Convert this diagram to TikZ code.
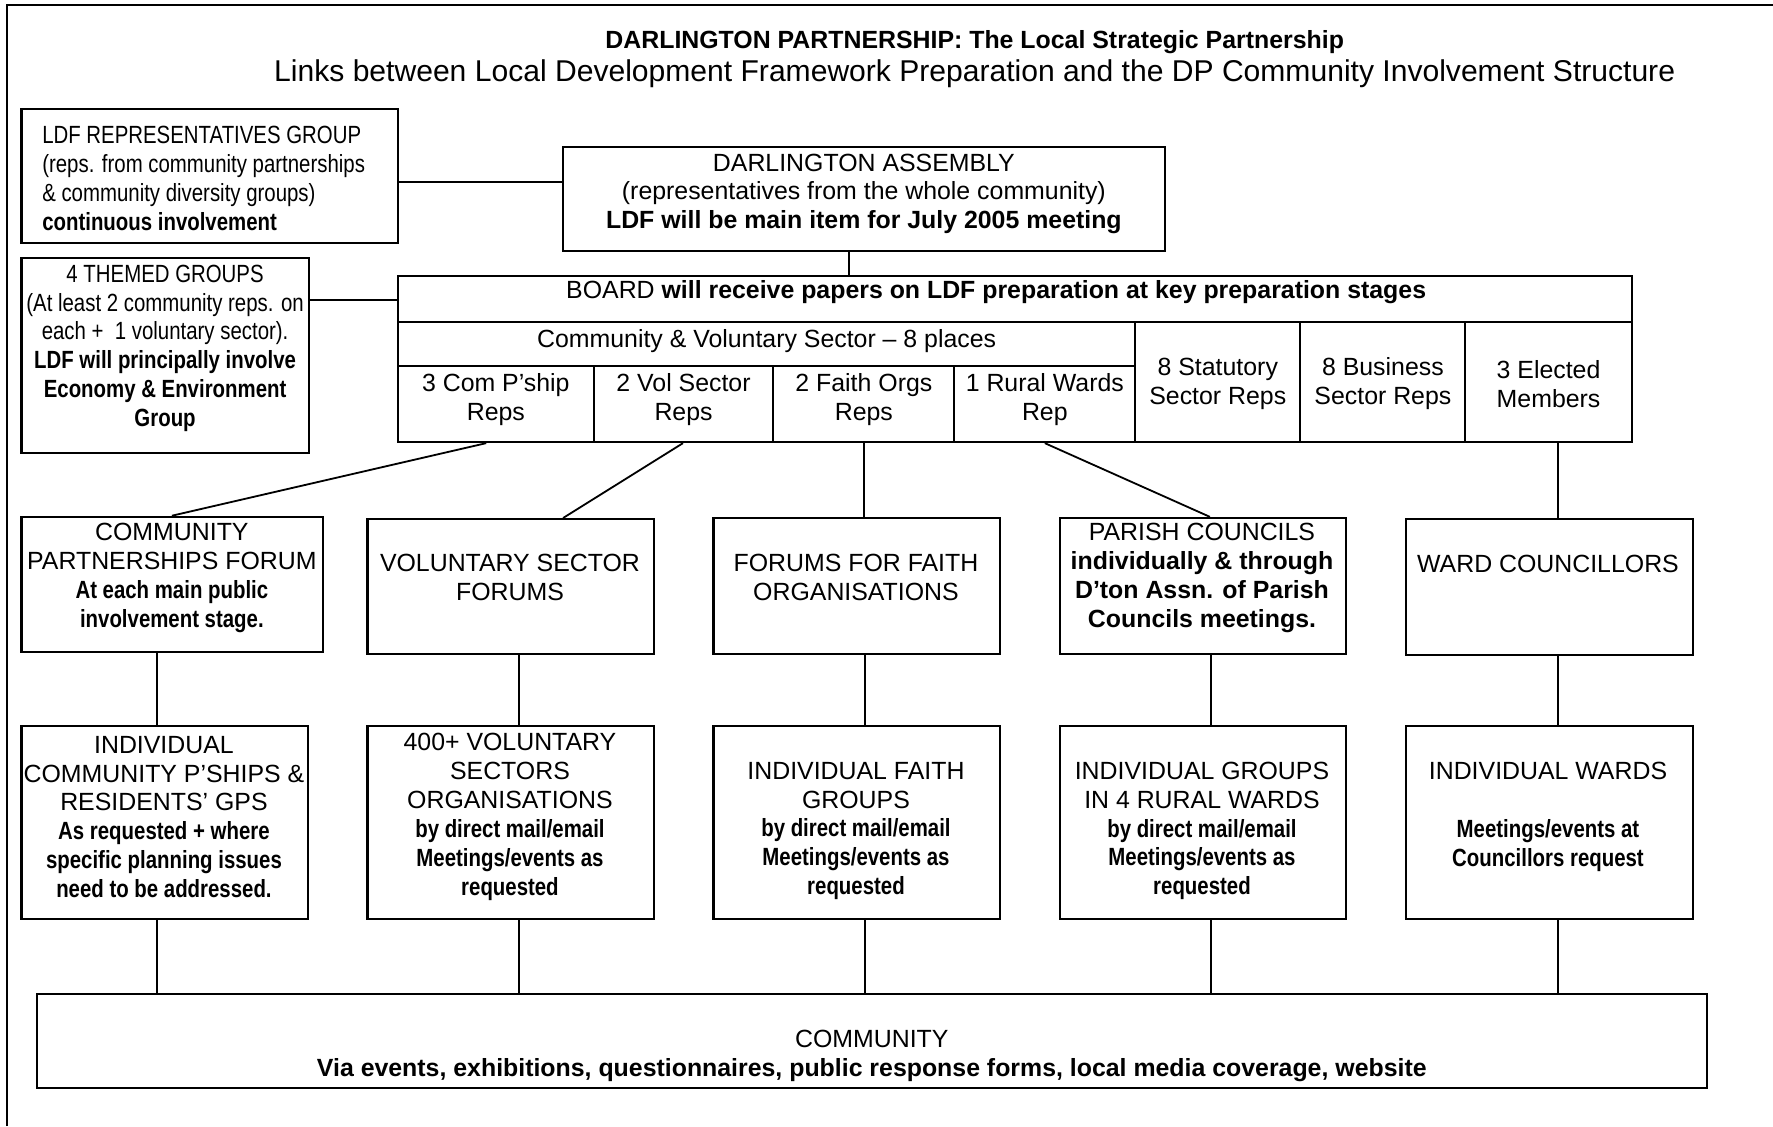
\documentclass[tikz,border=0pt]{standalone}
\usepackage{fontspec}
\setmainfont{Liberation Sans}
\newfontfamily\narrow[FakeStretch=0.82]{Liberation Sans}
\usetikzlibrary{fit}

\begin{document}
\begin{tikzpicture}[x=0.5pt,y=-0.5pt,
	box/.style={draw,line width=0.9pt,inner sep=0pt},
	txt/.style={align=center,inner sep=0pt,yshift=-1.2pt,font=\fontsize{11}{12.75}\selectfont},
	link/.style={line width=0.8pt}]

	\useasboundingbox (0,0) rectangle (1568,996);
	\draw[line width=0.9pt] (6,996) -- (6,4) -- (1568,4);

	% titles
	\node[txt,font=\fontsize{11}{13}\selectfont\bfseries] (title) at (862,35) {DARLINGTON PARTNERSHIP: The Local Strategic Partnership};
	\node[txt,font=\fontsize{13.3}{15}\selectfont] (subtitle) at (862,63) {Links between Local Development Framework Preparation and the DP Community Involvement Structure};

	% top boxes
	\node[box,fit={(19,96) (352,215)}] (ldfrep) {};
	\node[txt,align=left,anchor=west,font=\fontsize{11}{12.75}\selectfont\narrow] (ldfreptxt) at (37,155.5)
		{LDF REPRESENTATIVES GROUP\\(reps. from community partnerships\\\& community diversity groups)\\\textbf{continuous involvement}};

	\node[box,fit={(498,130) (1030,222)}] (assembly) {};
	\node[txt] (assemblytxt) at (764,169)
		{DARLINGTON ASSEMBLY\\(representatives from the whole community)\\\textbf{LDF will be main item for July 2005 meeting}};

	\node[box,fit={(19,228) (273,401)}] (themed) {};
	\node[txt,font=\fontsize{11}{12.75}\selectfont\narrow] (themedtxt) at (146,305.5)
		{4 THEMED GROUPS\\(At least 2 community reps. on\\each +~ 1 voluntary sector).\\{\bfseries LDF will principally involve}\\{\bfseries Economy \& Environment}\\{\bfseries Group}};

	% board table
	\node[box,fit={(352,244) (1443,285)}] (board) {};
	\node[txt] (boardtxt) at (881,256) {BOARD \textbf{will receive papers on LDF preparation at key preparation stages}};
	\node[box,fit={(352,285) (1004,324)}] (cvs) {};
	\node[txt] (cvstxt) at (678,299) {Community \& Voluntary Sector – 8 places};

	\foreach \name/\xa/\xb/\label in {
		comp/352/525/{3 Com P’ship\\Reps},
		vol/525/684/{2 Vol Sector\\Reps},
		faith/684/844/{2 Faith Orgs\\Reps},
		rural/844/1004/{1 Rural Wards\\Rep}} {
		\node[box,fit={(\xa,324) (\xb,391)}] (\name) {};
		\node[txt] (\name txt) at ({(\xa+\xb)/2},351) {\label};
	}
	\foreach \name/\xa/\xb/\label in {
		stat/1004/1150/{8 Statutory\\Sector Reps},
		bus/1150/1296/{8 Business\\Sector Reps},
		elect/1296/1443/{3 Elected\\Members}} {
		\node[box,fit={(\xa,285) (\xb,391)}] (\name) {};
		\node[txt] (\name txt) at ({(\xa+\xb)/2},337) {\label};
	}

	\draw[link] (ldfrep.east |- 0,161) -- (assembly.west |- 0,161);
	\draw[link] (themed.east |- 0,265) -- (board.west |- 0,265);
	\draw[link] (assembly.south -| 751,0) -- (board.north -| 751,0);

	% forums
	\node[box,fit={(19,457) (286,577)}] (cpf) {};
	\node[txt] (cpftxt) at (152,508.5)
		{COMMUNITY\\PARTNERSHIPS FORUM\\{\narrow\bfseries At each main public}\\{\narrow\bfseries involvement stage.}};
	\node[box,fit={(325,459) (578,578)}] (vsf) {};
	\node[txt] (vsftxt) at (451,508.5) {VOLUNTARY SECTOR\\FORUMS};
	\node[box,fit={(631,458) (884,578)}] (fff) {};
	\node[txt] (ffftxt) at (757,508.5) {FORUMS FOR FAITH\\ORGANISATIONS};
	\node[box,fit={(937,458) (1190,578)}] (pc) {};
	\node[txt] (pctxt) at (1063,508.5)
		{PARISH COUNCILS\\\textbf{individually \& through}\\\textbf{D’ton Assn. of Parish}\\\textbf{Councils meetings.}};
	\node[box,fit={(1243,459) (1497,579)}] (wc) {};
	\node[txt] (wctxt) at (1369,496) {WARD COUNCILLORS};

	\draw[link] (comp.south -| 430,0) -- (cpf.north -| 152,0);
	\draw[link] (vol.south -| 604,0) -- (vsf.north -| 498,0);
	\draw[link] (faith.south -| 764,0) -- (fff.north -| 764,0);
	\draw[link] (rural.south -| 924,0) -- (pc.north -| 1070,0);
	\draw[link] (elect.south -| 1378,0) -- (wc.north -| 1378,0);

	% individual groups
	\node[box,fit={(19,642) (272,813)}] (icp) {};
	\node[txt] (icptxt) at (145,720)
		{INDIVIDUAL\\COMMUNITY P’SHIPS \&\\RESIDENTS’ GPS\\{\narrow\bfseries As requested + where}\\{\narrow\bfseries specific planning issues}\\{\narrow\bfseries need to be addressed.}};
	\node[box,fit={(325,642) (578,813)}] (vso) {};
	\node[txt] (vsotxt) at (451,720)
		{400+ VOLUNTARY\\SECTORS\\ORGANISATIONS\\{\narrow\bfseries by direct mail/email}\\{\narrow\bfseries Meetings/events as}\\{\narrow\bfseries requested}};
	\node[box,fit={(631,642) (884,813)}] (ifg) {};
	\node[txt] (ifgtxt) at (757,732.5)
		{INDIVIDUAL FAITH\\GROUPS\\{\narrow\bfseries by direct mail/email}\\{\narrow\bfseries Meetings/events as}\\{\narrow\bfseries requested}};
	\node[box,fit={(937,642) (1190,813)}] (igr) {};
	\node[txt] (igrtxt) at (1063,732.5)
		{INDIVIDUAL GROUPS\\IN 4 RURAL WARDS\\{\narrow\bfseries by direct mail/email}\\{\narrow\bfseries Meetings/events as}\\{\narrow\bfseries requested}};
	\node[box,fit={(1243,642) (1497,813)}] (iw) {};
	\node[txt] (iwtxt) at (1369,720)
		{INDIVIDUAL WARDS\\[12.75pt]{\narrow\bfseries Meetings/events at}\\{\narrow\bfseries Councillors request}};

	% community
	\node[box,fit={(33,879) (1510,962)}] (comm) {};
	\node[txt] (commtxt) at (771,931.5)
		{COMMUNITY\\\textbf{Via events, exhibitions, questionnaires, public response forms, local media coverage, website}};

	\foreach \up/\down/\x in {cpf/icp/139, vsf/vso/459, fff/ifg/765, pc/igr/1071, wc/iw/1378} {
		\draw[link] (\up.south -| \x,0) -- (\down.north -| \x,0);
		\draw[link] (\down.south -| \x,0) -- (comm.north -| \x,0);
	}

\end{tikzpicture}
\end{document}
